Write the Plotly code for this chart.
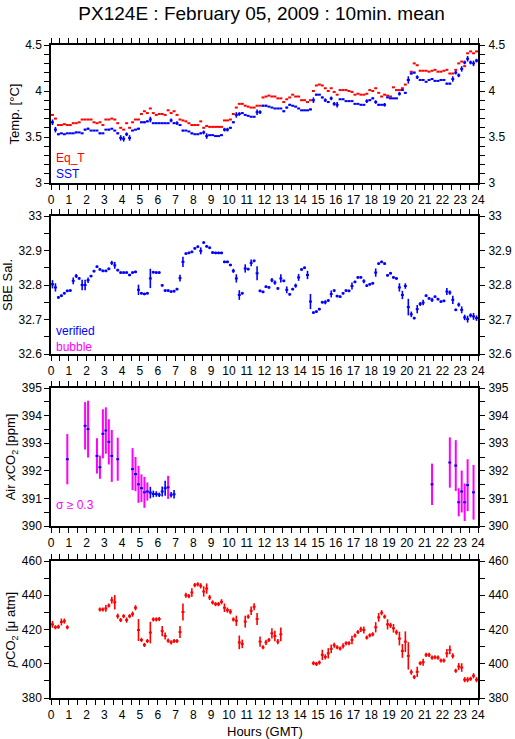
import plotly.graph_objects as go

# ---------------- data (10-minute means, slot centres at (i+0.5)/6 h) ----------------
eq_t = [3.74, 3.70, 3.63, 3.63, 3.64, 3.63,
        3.63, 3.65, 3.65, 3.66, 3.69, 3.69,
        3.69, 3.69, 3.66, 3.65, 3.66, 3.63,
        3.69, 3.69, 3.70, 3.69, 3.65, 3.60,
        3.58, 3.65, 3.60, 3.66, 3.69, 3.69,
        3.75, 3.78, 3.76, 3.81, 3.76, 3.74,
        3.75, 3.75, 3.74, 3.79, 3.76, 3.78,
        3.74, 3.69, 3.68, 3.67, 3.65, 3.63,
        3.63, 3.63, 3.67, 3.60, 3.62, 3.61,
        3.61, 3.61, 3.61, 3.61, 3.68, 3.68,
        3.69, 3.75, 3.82, 3.86, 3.86, 3.84,
        3.83, 3.82, 3.82, 3.84, 3.84, 3.93,
        3.94, 3.95, 3.94, 3.94, 3.92, 3.92,
        3.88, 3.91, 3.93, 3.96, 3.94, 3.94,
        3.90, 3.90, 3.88, 3.90, 4.00, 4.06,
        4.07, 4.06, 4.03, 4.00, 4.03, 3.99,
        3.96, 4.01, 4.01, 4.01, 4.00, 3.99,
        3.96, 3.97, 3.96, 3.96, 3.97, 4.01,
        4.00, 4.03, 3.98, 3.94, 3.96, 3.95,
        3.94, 4.04, 4.01, 4.01, 4.03, 4.07,
        4.12, 4.21, 4.30, 4.28, 4.22, 4.22,
        4.22, 4.21, 4.22, 4.23, 4.21, 4.21,
        4.22, 4.23, 4.19, 4.19, 4.23, 4.30,
        4.32, 4.27, 4.41, 4.43, 4.41, 4.43]

sst = [3.66, 3.58, 3.53, 3.54, 3.53, 3.54,
       3.54, 3.54, 3.55, 3.55, 3.54, 3.58,
       3.59, 3.57, 3.57, 3.57, 3.54, 3.54,
       3.58, 3.58, 3.59, 3.57, 3.54, 3.49,
       3.48, 3.53, 3.49, 3.57, 3.58, 3.59,
       3.66, 3.66, 3.67, 3.69, 3.65, 3.65,
       3.65, 3.65, 3.65, 3.65, 3.68, 3.65,
       3.65, 3.63, 3.57, 3.57, 3.56, 3.54,
       3.53, 3.53, 3.54, 3.55, 3.51, 3.52,
       3.52, 3.51, 3.51, 3.52, 3.58, 3.58,
       3.60, 3.66, 3.74, 3.75, 3.76, 3.74,
       3.73, 3.72, 3.72, 3.77, 3.77, 3.84,
       3.84, 3.83, 3.82, 3.81, 3.81, 3.81,
       3.78, 3.82, 3.85, 3.84, 3.83, 3.81,
       3.79, 3.79, 3.79, 3.80, 3.90, 3.96,
       3.96, 3.93, 3.90, 3.88, 3.92, 3.86,
       3.85, 3.91, 3.91, 3.89, 3.89, 3.89,
       3.86, 3.86, 3.85, 3.85, 3.89, 3.90,
       3.92, 3.88, 3.85, 3.85, 3.85, 3.93,
       3.92, 3.92, 3.92, 3.97, 4.01, 3.98,
       4.12, 4.19, 4.20, 4.15, 4.12, 4.12,
       4.10, 4.12, 4.13, 4.11, 4.11, 4.12,
       4.12, 4.08, 4.08, 4.13, 4.20, 4.17,
       4.24, 4.31, 4.35, 4.31, 4.30, 4.33]

sst_sd = [.03, .03, .01, .005, .005, .005,
          .005, .005, .01, .005, .005, .01,
          .01, .005, .005, .005, .01, .005,
          .005, .01, .005, .005, .01, .03,
          .03, .02, .03, .005, .005, .01,
          .01, .01, .01, .03, .005, .005,
          .005, .005, .005, .005, .02, .01,
          .02, .005, .01, .005, .005, .01,
          .005, .005, .01, .02, .03, .005,
          .005, .005, .005, .01, .02, .02,
          .01, .01, .03, .02, .01, .005,
          .005, .005, .005, .03, .02, .01,
          .01, .005, .005, .005, .005, .005,
          .01, .01, .01, .005, .005, .005,
          .005, .005, .005, .01, .03, .01,
          .005, .01, .02, .01, .02, .02,
          .03, .005, .005, .005, .005, .005,
          .005, .005, .005, .005, .02, .01,
          .01, .02, .01, .005, .02, .005,
          .005, .005, .005, .02, .01, .01,
          .04, .01, .01, .02, .005, .005,
          .005, .01, .01, .005, .005, .01,
          .005, .01, .01, .03, .02, .02,
          .03, .02, .03, .02, .03, .02]

sal = [32.802, 32.793, 32.764, 32.769, 32.776, 32.783,
       32.784, 32.812, 32.826, 32.819, 32.800, 32.800,
       32.814, 32.826, 32.840, 32.853, 32.845, 32.841,
       32.841, 32.847, 32.864, 32.857, 32.843, 32.836,
       32.836, 32.836, 32.829, 32.836, 32.838, 32.786,
       32.776, 32.774, 32.776, 32.819, 32.837, 32.836,
       32.836, 32.799, 32.784, 32.784, 32.781, 32.782,
       32.788, 32.820, 32.867, 32.891, 32.893, 32.896,
       32.906, 32.911, 32.899, 32.923, 32.912, 32.908,
       32.894, 32.893, 32.893, 32.893, 32.867, 32.867,
       32.858, 32.841, 32.819, 32.771, 32.776, 32.848,
       32.846, 32.864, 32.870, 32.834, 32.783, 32.780,
       32.795, 32.793, 32.814, 32.807, 32.790, 32.819,
       32.812, 32.786, 32.773, 32.788, 32.798, 32.822,
       32.845, 32.850, 32.829, 32.752, 32.720, 32.723,
       32.730, 32.750, 32.750, 32.755, 32.774, 32.784,
       32.768, 32.766, 32.776, 32.784, 32.783, 32.797,
       32.809, 32.822, 32.822, 32.811, 32.798, 32.802,
       32.805, 32.836, 32.862, 32.867, 32.862, 32.828,
       32.834, 32.822, 32.819, 32.793, 32.771, 32.797,
       32.736, 32.715, 32.704, 32.730, 32.745, 32.749,
       32.769, 32.761, 32.757, 32.766, 32.759, 32.752,
       32.754, 32.781, 32.778, 32.757, 32.728, 32.743,
       32.728, 32.706, 32.701, 32.712, 32.709, 32.704]

sal_sd = [.012, .012, .004, .004, .004, .004,
          .004, .010, .006, .004, .015, .015,
          .008, .004, .004, .004, .004, .004,
          .004, .004, .006, .010, .004, .004,
          .004, .004, .004, .004, .004, .015,
          .004, .004, .004, .028, .004, .004,
          .004, .004, .004, .004, .004, .004,
          .004, .010, .015, .004, .004, .004,
          .004, .004, .010, .004, .004, .004,
          .004, .004, .004, .004, .004, .004,
          .004, .006, .012, .014, .004, .012,
          .004, .010, .004, .020, .004, .004,
          .004, .004, .006, .006, .004, .012,
          .004, .010, .004, .004, .006, .010,
          .004, .004, .012, .022, .004, .004,
          .004, .004, .006, .004, .010, .004,
          .004, .004, .004, .004, .004, .010,
          .004, .004, .004, .006, .004, .004,
          .004, .012, .004, .004, .004, .004,
          .004, .004, .004, .012, .012, .008,
          .024, .008, .004, .012, .006, .008,
          .004, .004, .006, .004, .004, .004,
          .004, .010, .006, .012, .004, .006,
          .010, .008, .010, .006, .010, .008]

# Air xCO2: minute of day (slot centre), mean, standard deviation
air_min = [55, 115, 125, 155, 165, 175, 185, 195, 205, 225,
           275, 285, 295, 305, 315, 325, 335, 345, 355, 365,
           375, 385, 395, 405, 415,
           1285, 1345, 1365, 1375, 1385, 1395, 1405, 1425]
air = [392.42, 393.63, 393.51, 392.54, 392.13, 393.34, 393.46, 393.05, 392.54, 392.42,
       392.06, 391.88, 391.51, 391.37, 391.22, 391.25, 391.21, 391.16, 391.16, 391.13,
       391.25, 391.37, 391.40, 391.13, 391.15,
       391.51, 392.30, 392.19, 390.86, 391.25, 390.86, 391.48, 391.22]
air_sd = [0.91, 0.86, 1.03, 0.64, 0.42, 0.89, 0.84, 0.82, 0.94, 0.78,
          0.76, 0.62, 0.67, 0.50, 0.56, 0.33, 0.21, 0.12, 0.10, 0.08,
          0.18, 0.27, 0.42, 0.10, 0.15,
          0.75, 0.91, 0.92, 0.51, 0.76, 0.68, 0.94, 0.99]

pco2 = [423.0, 421.3, 421.6, 424.4, 424.9, 421.3,
        None, None, None, None, None, None,
        None, None, None, None, 431.7, 431.7,
        432.3, 434.0, 437.1, 435.9, 427.8, 425.5,
        427.8, 425.5, 427.8, 429.0, 432.7, 419.7,
        413.9, 411.0, 413.3, 418.2, 425.9, 425.9,
        426.1, 419.1, 416.2, 413.5, 412.5, 413.3,
        413.3, 418.5, 430.2, 440.0, 439.5, 441.6,
        445.9, 446.4, 445.5, 442.2, 443.9, 438.7,
        435.8, 434.8, 434.8, 436.2, 432.7, 431.3,
        430.4, 425.9, 425.1, 412.5, 411.6, 424.6,
        427.5, 430.9, 433.3, 426.1, 412.9, 409.6,
        412.5, 413.9, 417.8, 416.2, 412.9, 417.2,
        None, None, None, None, None, None,
        None, None, None, None, 400.3, 399.9,
        400.7, 405.2, 404.0, 406.1, 408.7, 410.8,
        409.6, 408.9, 410.4, 412.0, 412.0, 413.9,
        416.4, 418.5, 420.1, 419.7, 415.3, 416.6,
        417.2, 421.3, 427.1, 429.8, 427.5, 423.0,
        422.4, 420.7, 418.4, 414.7, 407.5, 412.9,
        404.6, 395.1, 392.2, 395.3, 400.3, 400.9,
        405.2, 405.2, 403.6, 403.8, 403.6, 401.9,
        401.9, 406.1, 408.1, 404.6, 395.9, 398.4,
        397.8, 390.7, 390.7, 391.2, 393.0, 390.7]

pco2_sd = [2.0, 1.2, 1.2, 2.0, 1.5, 1.2,
           0, 0, 0, 0, 0, 0,
           0, 0, 0, 0, 1.2, 1.2,
           2.0, 1.2, 2.0, 4.2, 1.5, 1.2,
           1.2, 1.5, 1.2, 1.5, 1.5, 6.4,
           1.2, 1.2, 1.2, 6.3, 1.2, 1.2,
           1.2, 3.0, 2.0, 1.2, 1.2, 1.2,
           1.2, 3.5, 5.0, 1.5, 1.2, 2.5,
           1.2, 1.2, 1.5, 3.0, 3.0, 1.5,
           1.2, 1.2, 1.2, 1.5, 2.5, 1.5,
           1.5, 1.2, 3.0, 4.0, 2.5, 3.5,
           1.2, 2.5, 2.0, 3.5, 3.0, 1.2,
           1.5, 1.2, 3.0, 3.0, 1.5, 4.0,
           0, 0, 0, 0, 0, 0,
           0, 0, 0, 0, 1.2, 1.2,
           1.2, 3.0, 1.5, 3.0, 2.5, 1.5,
           1.2, 1.2, 1.5, 1.2, 1.2, 2.5,
           1.2, 1.2, 1.5, 2.0, 1.2, 1.2,
           1.2, 3.0, 2.5, 1.5, 1.2, 3.0,
           1.5, 2.5, 1.5, 4.0, 4.0, 6.0,
           8.0, 1.5, 1.2, 3.0, 1.2, 2.0,
           1.2, 1.2, 1.2, 1.2, 1.2, 1.2,
           1.2, 2.5, 2.5, 1.5, 1.2, 2.0,
           2.5, 1.5, 1.5, 1.2, 1.5, 1.5]

hour_ticks = list(range(0, 25))

# ---------------- figure ----------------
RED, BLUE, MAG = "#FF0000", "#0000FF", "#FF00FF"
hours = [(i + 0.5) / 6 for i in range(144)]
air_hours = [m / 60 for m in air_min]
HALF = 1 / 12  # half of a 10-minute averaging window

fig = go.Figure()


def seg_trace(x, y, color, sd=None, ax=1, thick=2):
    ey = dict(type="data", array=sd, width=0, thickness=1.6, color=color, visible=True) if sd is not None else dict(visible=False)
    return go.Scatter(
        x=x, y=y, mode="markers", marker=dict(size=0, color=color, opacity=0),
        error_x=dict(type="constant", value=HALF, width=0, thickness=thick, color=color),
        error_y=ey, xaxis="x" if ax == 1 else f"x{ax}", yaxis="y" if ax == 1 else f"y{ax}",
        showlegend=False, hoverinfo="skip")


fig.add_trace(seg_trace(hours, eq_t, RED, None, 1))
fig.add_trace(seg_trace(hours, sst, BLUE, sst_sd, 1))
fig.add_trace(seg_trace(hours, sal, BLUE, sal_sd, 2))

air_hi = [s if s >= 0.3 else 0 for s in air_sd]
air_lo = [s if s < 0.3 else 0 for s in air_sd]
fig.add_trace(go.Scatter(
    x=air_hours, y=air, mode="markers", marker=dict(size=0, opacity=0, color=MAG),
    error_y=dict(type="data", array=air_hi, width=0, thickness=2, color=MAG),
    xaxis="x3", yaxis="y3", showlegend=False, hoverinfo="skip"))
fig.add_trace(seg_trace(air_hours, air, BLUE, air_lo, 3))

fig.add_trace(seg_trace(hours, pco2, RED, pco2_sd, 4))

# dummy traces so right-hand label axes render
for k in range(1, 5):
    fig.add_trace(go.Scatter(x=[None], y=[None], xaxis="x" if k == 1 else f"x{k}",
                             yaxis=f"y{k + 4}", showlegend=False, hoverinfo="skip"))

H_PLOT = 653.0
def dom(top_px, bot_px):
    return [(698 - bot_px) / H_PLOT, (698 - top_px) / H_PLOT]

domains = [dom(45, 183), dom(216, 354), dom(388, 526), dom(561, 698)]
yranges = [[3, 4.5], [32.6, 33.0], [390, 395], [380, 460]]
ydt = [0.5, 0.1, 1, 20]
ymin = [0.1, 0.05, 0.5, 10]
ytitles = ["Temp. [°C]", "SBE Sal.", "Air <i>x</i>CO<sub>2</sub> [ppm]", "<i>p</i>CO<sub>2</sub> [μ atm]"]
FONT = "Liberation Sans, Arial, Helvetica, sans-serif"
tickfont = dict(family=FONT, size=12, color="black")

for k in range(1, 5):
    sx = "" if k == 1 else str(k)
    fig.layout[f"xaxis{sx}"] = dict(
        domain=[0, 1], range=[0, 24], anchor=f"y{sx}", tickmode="array", tickvals=hour_ticks,
        ticktext=[str(h) for h in hour_ticks], automargin=False,
        ticks="outside", ticklen=5, tickwidth=1, tickcolor="black",
        minor=dict(dtick=0.5, tick0=0, ticks="outside", ticklen=5, tickwidth=1, tickcolor="black"),
        showline=True, linecolor="black", linewidth=1.5, mirror="allticks",
        showgrid=False, zeroline=False, tickfont=tickfont, fixedrange=True)
    fig.layout[f"yaxis{sx}"] = dict(
        domain=domains[k - 1], range=yranges[k - 1], anchor=f"x{sx}", dtick=ydt[k - 1],
        tick0=yranges[k - 1][0], automargin=False,
        ticks="outside", ticklen=5, tickwidth=1, tickcolor="black",
        minor=dict(dtick=ymin[k - 1], tick0=yranges[k - 1][0], ticks="outside", ticklen=5,
                   tickwidth=1, tickcolor="black"),
        showline=True, linecolor="black", linewidth=1.5, mirror="allticks",
        showgrid=False, zeroline=False, tickfont=tickfont, fixedrange=True,
        title=dict(text=ytitles[k - 1], font=dict(family=FONT, size=13, color="black"), standoff=3))
    fig.layout[f"yaxis{k + 4}"] = dict(
        overlaying=f"y{sx}", side="right", anchor=f"x{sx}", range=yranges[k - 1],
        dtick=ydt[k - 1], tick0=yranges[k - 1][0], automargin=False,
        ticks="outside", ticklen=7, tickcolor="rgba(0,0,0,0)", showline=False, showgrid=False,
        zeroline=False, tickfont=tickfont, fixedrange=True)

# in-plot labels (two-line keys as single annotations)
def ann(text, ypix, color, size=12):
    return dict(text=text, xref="paper", yref="paper", x=0.006, y=(698 - ypix) / H_PLOT,
                xanchor="left", yanchor="middle", showarrow=False, align="left",
                font=dict(family=FONT, size=size, color=color))

annotations = [
    ann(f"Eq_T<br><span style='color:{BLUE}'>SST</span>", 165.5, RED),
    ann(f"verified<br><span style='color:{MAG}'>bubble</span>", 339, BLUE),
    ann("σ ≥ 0.3", 504.5, MAG),
    dict(text="Hours (GMT)", xref="paper", yref="paper", x=0.5, y=(698 - 731) / H_PLOT,
         xanchor="center", yanchor="middle", showarrow=False,
         font=dict(family=FONT, size=13, color="black")),
]

fig.update_layout(
    width=515, height=739, margin=dict(l=51, r=37, t=45, b=41, autoexpand=False),
    paper_bgcolor="white", plot_bgcolor="white",
    title=dict(text="PX124E : February 05, 2009 : 10min. mean", x=0.508, xanchor="center",
               y=1 - 13 / 739, yanchor="middle", yref="container",
               font=dict(family=FONT, size=19, color="black")),
    annotations=annotations, showlegend=False, hovermode=False,
)

fig.write_html("out.html", config={"displayModeBar": False},
               post_script="document.body.style.margin='0';document.body.style.overflow='hidden';")
